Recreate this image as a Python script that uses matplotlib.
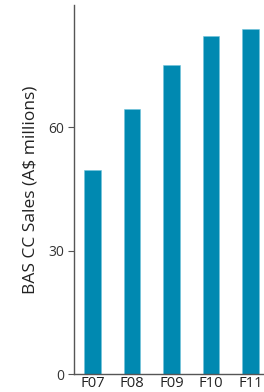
import matplotlib
matplotlib.use("Agg")
from matplotlib import pyplot as plt

# data
years = ["F07", "F08", "F09", "F10", "F11"]
sales = [49.6, 64.5, 75.1, 82.3, 83.9]
y_ticks = [0, 30, 60]

plt.rcParams["font.family"] = ["Open Sans", "DejaVu Sans"]

fig = plt.figure(figsize=(2.64, 3.92), dpi=100)
ax = fig.add_axes([0.281, 0.045, 0.715, 0.942])

ax.bar(range(len(years)), sales, width=0.42, color="#0089b1",
       edgecolor="#6fc3dc", linewidth=0.4)

ax.set_xlim(-0.46, 4.32)
ax.set_ylim(0, 89.7)
ax.set_xticks(range(len(years)))
ax.set_xticklabels(years)
ax.set_yticks(y_ticks)

ax.spines["top"].set_visible(False)
ax.spines["right"].set_visible(False)
for s in ("left", "bottom"):
    ax.spines[s].set_color("#555555")
    ax.spines[s].set_linewidth(1.0)

ax.tick_params(axis="y", length=4, width=0.8, color="#555555",
               labelsize=10, labelcolor="#333333", pad=3)
ax.tick_params(axis="x", length=0, labelsize=10.6, labelcolor="#222222", pad=1.5)

ax.set_ylabel("BAS CC Sales (A$ millions)", fontsize=12.5, color="#222222",
              labelpad=7)

fig.savefig("out.png", dpi=100)
